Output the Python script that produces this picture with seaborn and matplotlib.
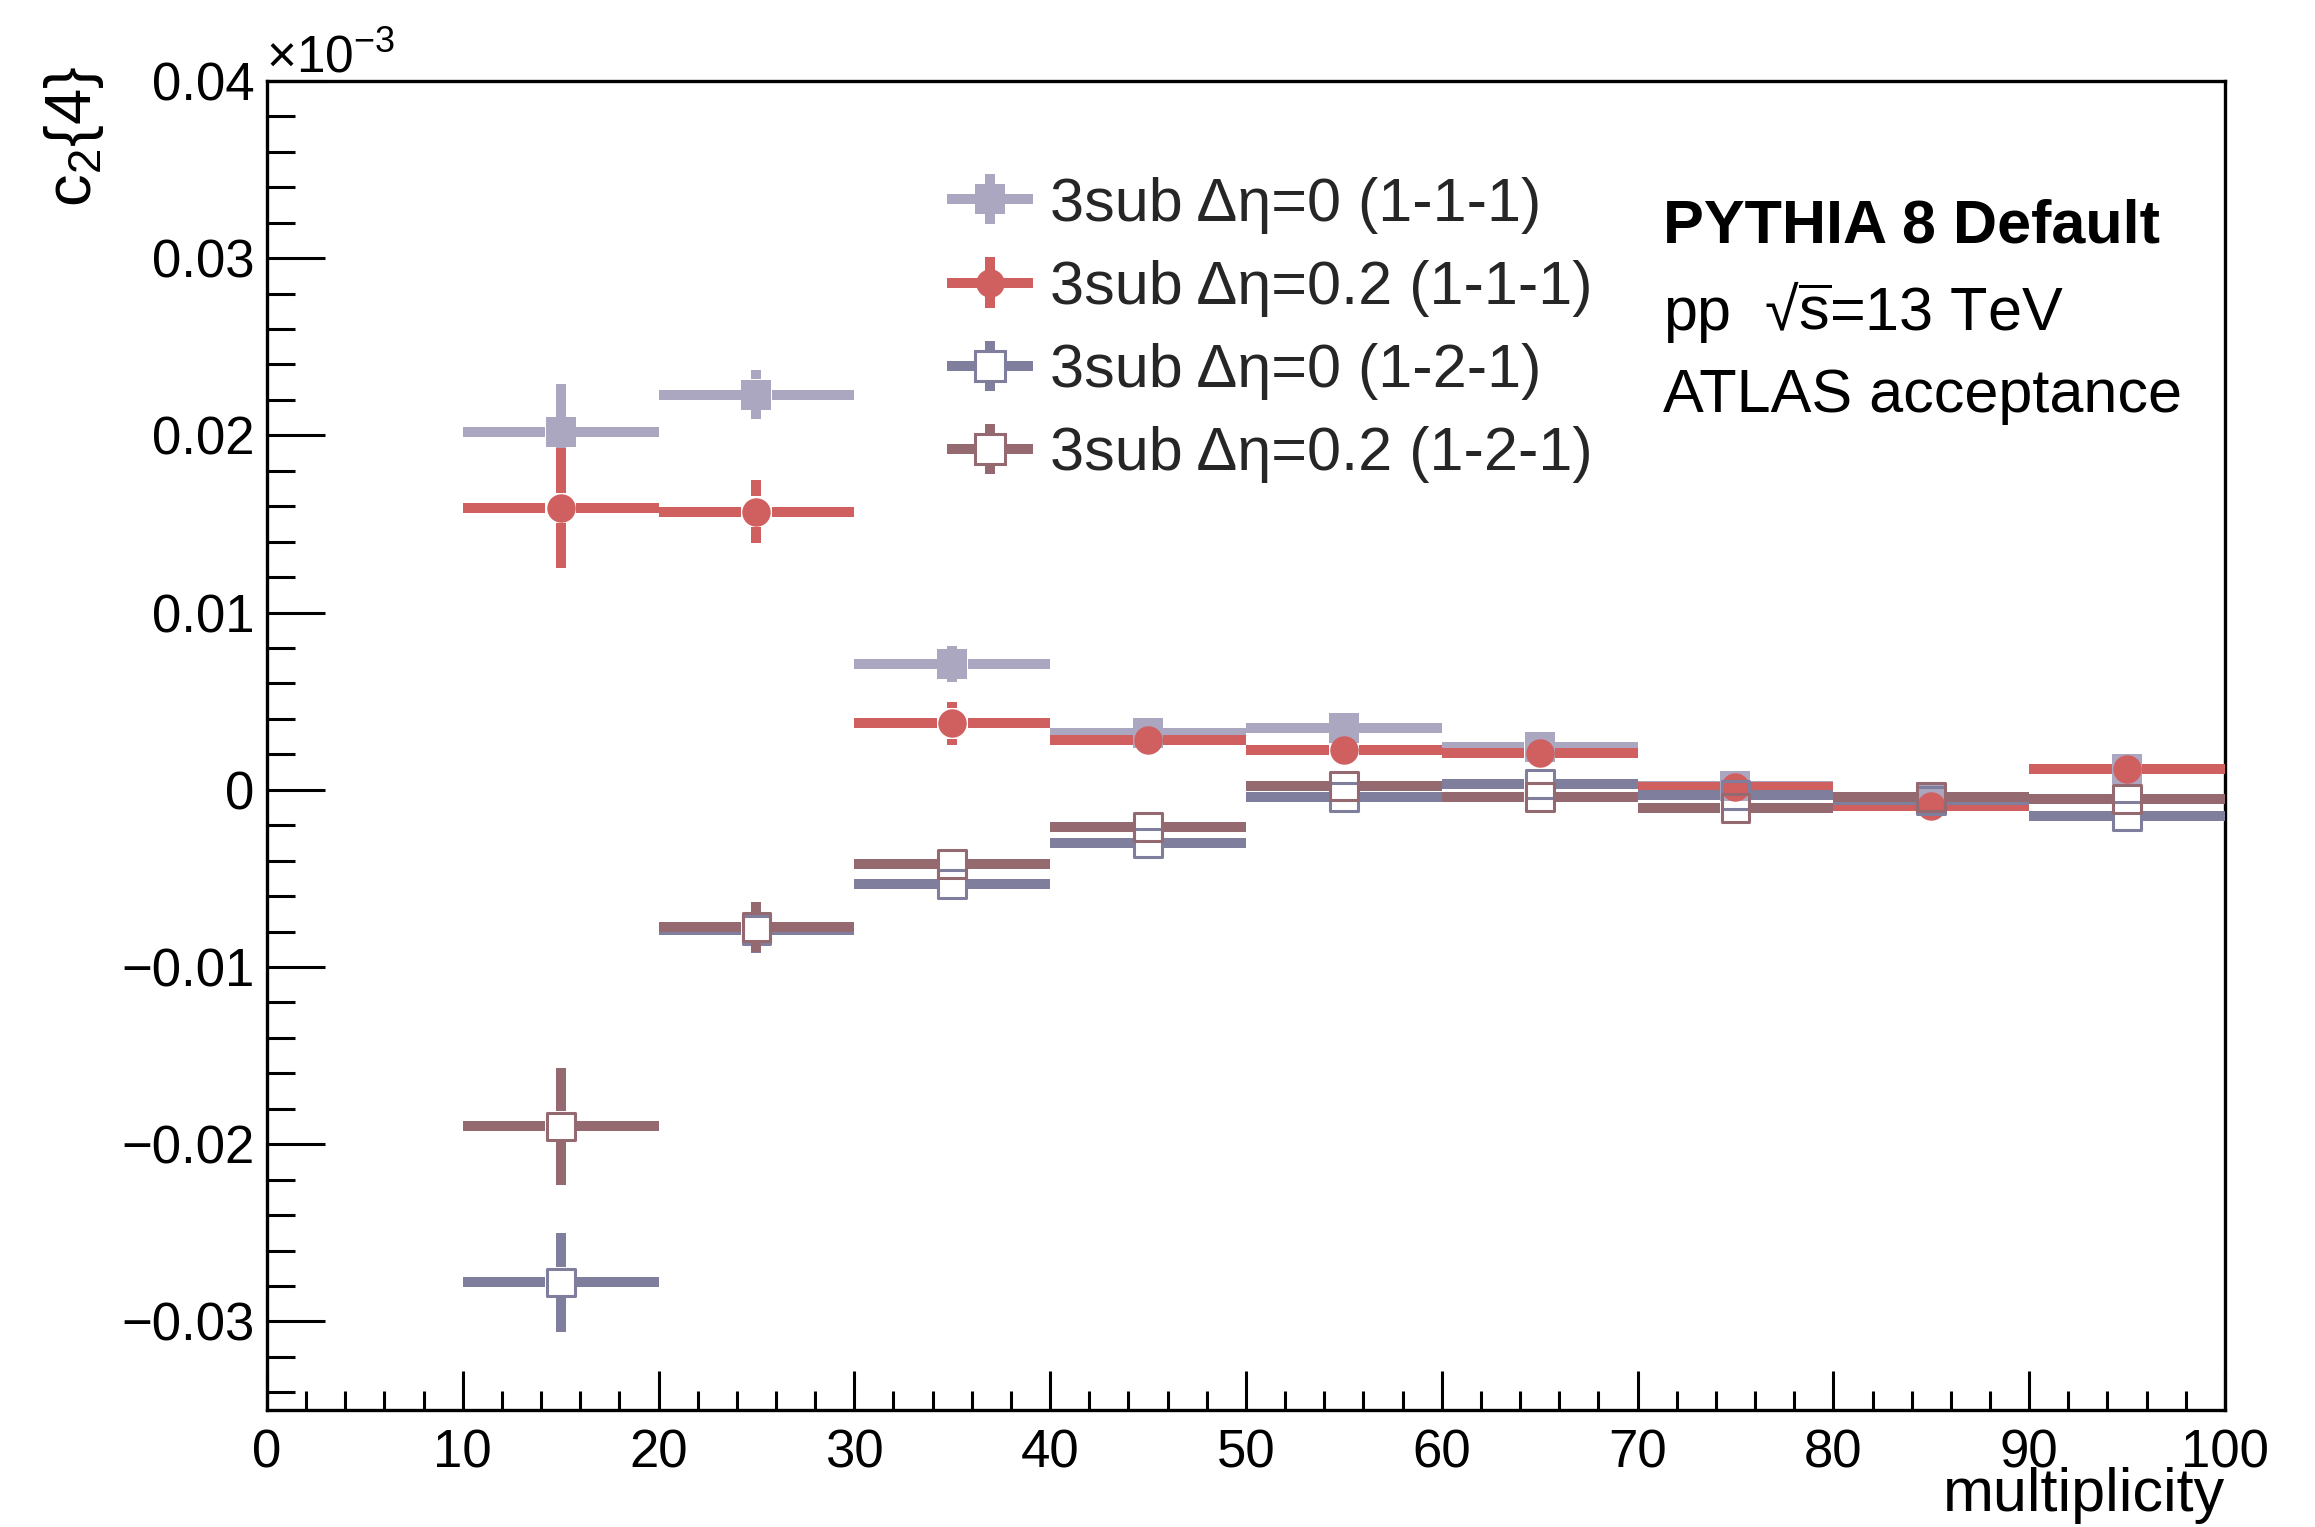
import numpy as np
import matplotlib
matplotlib.use("Agg")
import matplotlib.pyplot as plt
import seaborn as sns
from matplotlib.collections import LineCollection
from matplotlib.container import ErrorbarContainer
from matplotlib.legend_handler import HandlerErrorbar
from matplotlib.ticker import MultipleLocator, FixedLocator, FixedFormatter

# ---------------------------------------------------------------- data
multiplicity = [15, 25, 35, 45, 55, 65, 75, 85, 95]
bin_half_width = [5, 5, 5, 5, 5, 5, 5, 5, 5]

# c2{4} values, in units of 1e-3
c24_deta0_111 = [0.0202, 0.0223, 0.0071, 0.0032, 0.0035, 0.0024, 0.00023, -0.0004, 0.0012]
err_deta0_111 = [0.0027, 0.0014, 0.0010, 0.0006, 0.0007, 0.0006, 0.0006, 0.0006, 0.0006]

c24_deta02_111 = [0.0159, 0.0157, 0.00375, 0.0028, 0.00223, 0.0021, 0.00017, -0.0009, 0.0012]
err_deta02_111 = [0.0034, 0.0018, 0.0012, 0.0007, 0.0006, 0.0006, 0.0006, 0.0006, 0.0006]

c24_deta0_121 = [-0.0278, -0.0079, -0.0053, -0.0030, -0.00039, 0.00032, -0.00028, -0.0006, -0.00148]
err_deta0_121 = [0.0028, 0.0013, 0.0007, 0.0007, 0.0006, 0.0006, 0.0006, 0.0006, 0.0006]

c24_deta02_121 = [-0.0190, -0.00775, -0.0042, -0.0021, 0.00021, -0.00041, -0.00102, -0.0004, -0.00051]
err_deta02_121 = [0.0033, 0.0014, 0.0007, 0.0007, 0.0006, 0.0006, 0.0006, 0.0006, 0.0006]

series_labels = [
    "3sub \u0394\u03b7=0 (1-1-1)",
    "3sub \u0394\u03b7=0.2 (1-1-1)",
    "3sub \u0394\u03b7=0 (1-2-1)",
    "3sub \u0394\u03b7=0.2 (1-2-1)",
]
series_colors = ["#aba7c0", "#d05f5f", "#7f7f9d", "#956970"]

x_ticks = [0, 10, 20, 30, 40, 50, 60, 70, 80, 90, 100]
x_tick_labels = ["0", "10", "20", "30", "40", "50", "60", "70", "80", "90", "100"]
y_ticks = [-0.03, -0.02, -0.01, 0.0, 0.01, 0.02, 0.03, 0.04]
y_tick_labels = ["\u22120.03", "\u22120.02", "\u22120.01", "0", "0.01", "0.02", "0.03", "0.04"]

# ---------------------------------------------------------------- style
sns.set_theme(style="white")
plt.rcParams["font.family"] = ["Liberation Sans", "DejaVu Sans"]
plt.rcParams["mathtext.fontset"] = "custom"
plt.rcParams["mathtext.rm"] = "Liberation Sans"
plt.rcParams["mathtext.it"] = "Liberation Sans:italic"
plt.rcParams["mathtext.bf"] = "Liberation Sans:bold"

DPI = 100
fig = plt.figure(figsize=(23.15, 15.27), dpi=DPI)
fig.patch.set_facecolor("white")
ax = fig.add_axes([0.1153, 0.0766, 0.8458, 0.8704])
ax.set_facecolor("white")
ax.set_xlim(0, 100)
ax.set_ylim(-0.035, 0.04)

BAR_LW = 7.2           # error-bar thickness, pt
MARKER_HALF_PT = 11.0  # error bars stop at the marker edge

# convert the marker half size into data units along each axis
px_per_pt = DPI / 72.0
p0 = ax.transData.transform((0, 0))
px_x = ax.transData.transform((1, 0))[0] - p0[0]
px_y = ax.transData.transform((0, 1))[1] - p0[1]
gap_x = MARKER_HALF_PT * px_per_pt / px_x
gap_y = MARKER_HALF_PT * px_per_pt / px_y

series = [
    dict(y=c24_deta0_111, ey=err_deta0_111, marker="s", size=21.6, filled=True),
    dict(y=c24_deta02_111, ey=err_deta02_111, marker="o", size=20.5, filled=True),
    dict(y=c24_deta0_121, ey=err_deta0_121, marker="s", size=20.0, filled=False),
    dict(y=c24_deta02_121, ey=err_deta02_121, marker="s", size=20.0, filled=False),
]

handles = []
for i, (s, label, color) in enumerate(zip(series, series_labels, series_colors)):
    z = 3 + i
    segs = []
    for xi, yi, exi, eyi in zip(multiplicity, s["y"], bin_half_width, s["ey"]):
        if exi > gap_x:
            segs.append([(xi - exi, yi), (xi - gap_x, yi)])
            segs.append([(xi + gap_x, yi), (xi + exi, yi)])
        if eyi > gap_y:
            segs.append([(xi, yi - eyi), (xi, yi - gap_y)])
            segs.append([(xi, yi + gap_y), (xi, yi + eyi)])
    ax.add_collection(LineCollection(segs, colors=color, linewidths=BAR_LW,
                                     capstyle="butt", zorder=z))
    if s["filled"]:
        sns.scatterplot(x=multiplicity, y=s["y"], ax=ax, marker=s["marker"],
                        s=s["size"] ** 2, color=color, edgecolor=color,
                        linewidth=0, zorder=z + 0.5, legend=False)
    else:
        sns.scatterplot(x=multiplicity, y=s["y"], ax=ax, marker=s["marker"],
                        s=s["size"] ** 2, color=color, facecolor="none",
                        edgecolor=color, linewidth=2.2, zorder=z + 0.5,
                        legend=False)
    # legend entry
    h = ax.errorbar([np.nan], [np.nan], xerr=[1], yerr=[1], fmt=s["marker"],
                    color=color, ecolor=color, elinewidth=BAR_LW,
                    ms=s["size"] if s["filled"] else s["size"] + 1,
                    mfc=color if s["filled"] else "white", mec=color,
                    mew=0 if s["filled"] else 2.2, label=label)
    handles.append(h)

ax.set_xlim(0, 100)
ax.set_ylim(-0.035, 0.04)

leg = ax.legend(handles=handles, loc="upper left", bbox_to_anchor=(0.3473, 0.928),
                frameon=False, fontsize=44, borderpad=0, borderaxespad=0,
                handlelength=1.41, handletextpad=0.28, labelspacing=0.43,
                handler_map={ErrorbarContainer: HandlerErrorbar(xerr_size=0.706, yerr_size=0.41)})

# ---------------------------------------------------------------- axes
ax.xaxis.set_major_locator(FixedLocator(x_ticks))
ax.xaxis.set_major_formatter(FixedFormatter(x_tick_labels))
ax.xaxis.set_minor_locator(MultipleLocator(2))
ax.yaxis.set_major_locator(FixedLocator(y_ticks))
ax.yaxis.set_major_formatter(FixedFormatter(y_tick_labels))
ax.yaxis.set_minor_locator(MultipleLocator(0.002))

ax.tick_params(axis="x", which="both", direction="in", bottom=True, top=False,
               width=2.2, color="black", labelsize=38, pad=13, labelcolor="black")
ax.tick_params(axis="x", which="major", length=28)
ax.tick_params(axis="x", which="minor", length=14)
ax.tick_params(axis="y", which="both", direction="in", left=True, right=False,
               width=2.2, color="black", labelsize=38, pad=9, labelcolor="black")
ax.tick_params(axis="y", which="major", length=42)
ax.tick_params(axis="y", which="minor", length=20)

for sp in ax.spines.values():
    sp.set_visible(True)
    sp.set_color("black")
    sp.set_linewidth(2.4)
ax.grid(False)

ax.set_xlabel("multiplicity", fontsize=44, loc="right", color="black")
ax.xaxis.set_label_coords(1.0, -0.0425)
ax.set_ylabel("c$_2${4}", fontsize=47, loc="top", color="black")
ax.yaxis.set_label_coords(-0.0822, 1.0113)

fig.text(266 / 2315, 1 - 72 / 1527, "\u00d710$^{-3}$", fontsize=37, va="baseline",
         ha="left", color="black")

fig.text(0.7182, 0.8409, "PYTHIA 8 Default", fontsize=44, fontweight="bold",
         va="baseline", ha="left", color="black")
fig.text(0.7182, 0.7839, "pp  \u221a$\\overline{\\mathrm{s}}$=13 TeV", fontsize=44,
         va="baseline", ha="left", color="black")
fig.text(0.7182, 0.7304, "ATLAS acceptance", fontsize=44,
         va="baseline", ha="left", color="black")

fig.savefig("out.png", dpi=DPI, facecolor="white")
